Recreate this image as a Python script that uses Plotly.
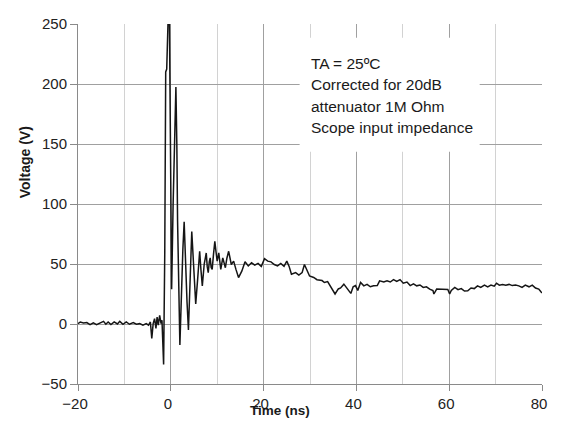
import plotly.graph_objects as go

# ---- data ----
time_ns = [
    -20.0, -19.5, -18.8, -18.1, -17.4, -16.7, -16.0, -15.3, -14.5, -14.0,
    -13.5, -12.9, -12.2, -11.5, -11.0, -10.3, -9.6, -8.9, -8.1, -7.4,
    -6.7, -6.0, -5.3, -4.8, -4.4, -4.1, -3.8, -3.5, -3.2, -2.95,
    -2.7, -2.4, -2.1, -1.9, -1.7, -1.55, -1.3, -1.1, -0.88, -0.67,
    -0.45, -0.3, 0.0, 0.18, 0.5, 0.8, 1.1, 1.3, 1.46, 1.96,
    2.3, 2.6, 2.88, 3.2, 3.5, 3.8, 4.2, 4.52, 4.9, 5.37,
    5.8, 6.22, 6.5, 6.79, 7.2, 7.64, 7.85, 8.07, 8.3, 8.49,
    8.7, 8.92, 9.2, 9.49, 9.75, 9.99, 10.34, 10.77, 11.2, 11.5,
    11.76, 12.1, 12.47, 13.04, 13.54, 14.04, 14.6, 15.3, 16.0, 16.7,
    17.4, 18.1, 18.8, 19.5, 20.2, 20.9, 21.6, 22.3, 23.0, 23.7,
    24.4, 25.0, 25.5, 26.0, 26.9, 27.6, 28.3, 28.8, 29.4, 29.9,
    30.8, 31.5, 32.6, 33.1, 33.8, 34.7, 35.4, 36.1, 36.6, 37.3,
    38.1, 38.8, 39.3, 39.8, 40.3, 40.9, 41.6, 42.3, 43.0, 43.7,
    44.5, 45.0, 45.9, 46.6, 47.3, 48.0, 48.7, 49.4, 50.1, 50.9,
    51.6, 52.3, 53.0, 53.7, 54.4, 55.1, 55.8, 56.5, 56.7, 57.3,
    59.7, 60.1, 60.45, 61.2, 61.9, 62.6, 63.3, 64.0, 64.7, 65.4,
    66.1, 66.8, 67.6, 68.3, 69.0, 69.7, 70.2, 70.8, 71.5, 72.2,
    72.9, 73.6, 74.3, 75.0, 75.7, 76.4, 77.2, 77.9, 78.6, 79.3,
    79.85, 80.0,
]
voltage_v = [
    0.3, 1.7, 0.9, 1.2, -0.5, 0.9, -0.5, 0.9, 2.2, -0.2,
    1.7, -0.5, 1.7, 0.0, 2.2, -0.2, 1.7, -0.2, 1.2, -0.2,
    0.3, -1.0, 0.3, -1.0, 1.7, -12.0, 0.3, 4.5, -3.7, 5.8,
    -1.0, 7.2, 0.3, 3.1, -14.7, -33.8, 60.0, 210.0, 212.5, 262.0,
    272.0, 255.0, 120.0, 29.0, 100.0, 165.0, 197.4, 150.0, 86.0, -17.4,
    30.0, 62.0, 85.2, 45.0, 18.0, -5.0, 40.0, 77.0, 50.0, 16.8,
    38.0, 60.6, 45.0, 31.8, 50.0, 59.2, 48.0, 42.8, 52.0, 55.1,
    47.0, 45.5, 58.0, 68.8, 60.0, 52.4, 59.2, 45.5, 55.1, 50.0,
    46.9, 55.0, 60.6, 49.6, 52.4, 45.5, 38.7, 44.0, 51.8, 48.4,
    51.0, 49.0, 50.5, 48.0, 54.5, 52.4, 51.8, 49.6, 48.4, 50.5,
    48.0, 52.4, 48.0, 41.4, 42.8, 40.7, 42.8, 49.6, 43.4, 40.0,
    38.8, 36.9, 36.2, 34.6, 35.3, 29.2, 25.0, 29.2, 30.0, 33.2,
    29.0, 25.5, 31.0, 32.0, 28.0, 34.6, 31.8, 33.0, 31.0, 31.8,
    32.0, 36.0, 35.0, 36.0, 35.0, 37.0, 35.5, 37.0, 34.0, 35.0,
    32.0, 33.5, 31.8, 32.5, 30.5, 31.0, 29.0, 27.8, 25.0, 29.1,
    28.8, 25.0, 28.0, 30.5, 28.6, 29.5, 27.5, 27.7, 30.0, 29.5,
    31.8, 30.5, 32.4, 31.0, 32.4, 31.5, 34.0, 32.4, 33.0, 32.4,
    33.0, 32.0, 32.4, 31.8, 30.5, 32.4, 31.0, 32.4, 30.0, 29.1,
    26.4, 26.0,
]
x_ticks = [-20, 0, 20, 40, 60, 80]
y_ticks = [-50, 0, 50, 100, 150, 200, 250]
note_lines = ["TA = 25ºC", "Corrected for 20dB", "attenuator 1M Ohm", "Scope input impedance"]

# ---- layout geometry (page body has an 8px margin) ----
OFF = 8
PAGE_W, PAGE_H = 562, 427
W, H = PAGE_W - 2 * OFF, PAGE_H - 2 * OFF
PL, PR, PT, PB = 78, 547, 18, 384          # plot area edges in page pixels
ML, MR, MT, MB = PL - OFF, OFF + W - PR, PT - OFF, PAGE_H - OFF - PB
PW, PH = PR - PL, PB - PT

def px_x(p):
    return (p - PL) / PW

def px_y(p):
    return (PB - p) / PH

FONT = "Liberation Sans, Arial, sans-serif"

fig = go.Figure()
fig.add_trace(go.Scatter(
    x=time_ns, y=voltage_v, mode="lines",
    line=dict(color="#151515", width=1.5),
    showlegend=False, hoverinfo="skip",
))

fig.update_layout(
    width=W, height=H,
    margin=dict(l=ML, r=MR, t=MT, b=MB, pad=0),
    paper_bgcolor="white", plot_bgcolor="white",
    font=dict(family=FONT, size=15, color="#222222"),
    xaxis=dict(
        range=[-20, 80], tickvals=x_ticks, ticks="outside", ticklen=6,
        tickcolor="#8a8a8a", showline=True, linecolor="#8a8a8a", linewidth=1,
        showgrid=True, gridcolor="#a0a0a0", gridwidth=1, zeroline=False,
        minor=dict(dtick=10, tick0=0, showgrid=True, gridcolor="#d2d2d2", ticks=""),
        tickfont=dict(size=15, color="#222222"), ticklabelshift=-3,
    ),
    yaxis=dict(
        range=[-50, 250], tickvals=y_ticks, ticks="outside", ticklen=7,
        tickcolor="#8a8a8a", showline=True, linecolor="#8a8a8a", linewidth=1,
        showgrid=True, gridcolor="#a0a0a0", gridwidth=1, zeroline=False,
        tickfont=dict(size=15, color="#222222"),
    ),
)

# white box behind the note
fig.add_shape(type="rect", xref="paper", yref="paper",
              x0=px_x(302), x1=px_x(484), y0=px_y(148), y1=px_y(32),
              fillcolor="white", line=dict(width=0), layer="above")

note_y = [58, 80, 102, 123]
for txt, yy in zip(note_lines, note_y):
    fig.add_annotation(text=txt, xref="paper", yref="paper",
                       x=px_x(311), y=px_y(yy), xanchor="left", yanchor="middle",
                       showarrow=False, font=dict(family=FONT, size=15.5, color="#1a1a1a"))

fig.add_annotation(text="<b>Voltage (V)</b>", xref="paper", yref="paper",
                   x=px_x(24), y=px_y(159), textangle=-90, showarrow=False,
                   xanchor="center", yanchor="middle",
                   font=dict(family=FONT, size=14, color="#1a1a1a"))
fig.add_annotation(text="<b>Time (ns)</b>", xref="paper", yref="paper",
                   x=px_x(282), y=px_y(411), showarrow=False,
                   xanchor="center", yanchor="middle",
                   font=dict(family=FONT, size=13.5, color="#1a1a1a"))

fig.write_html("out.html", config={"displayModeBar": False})
